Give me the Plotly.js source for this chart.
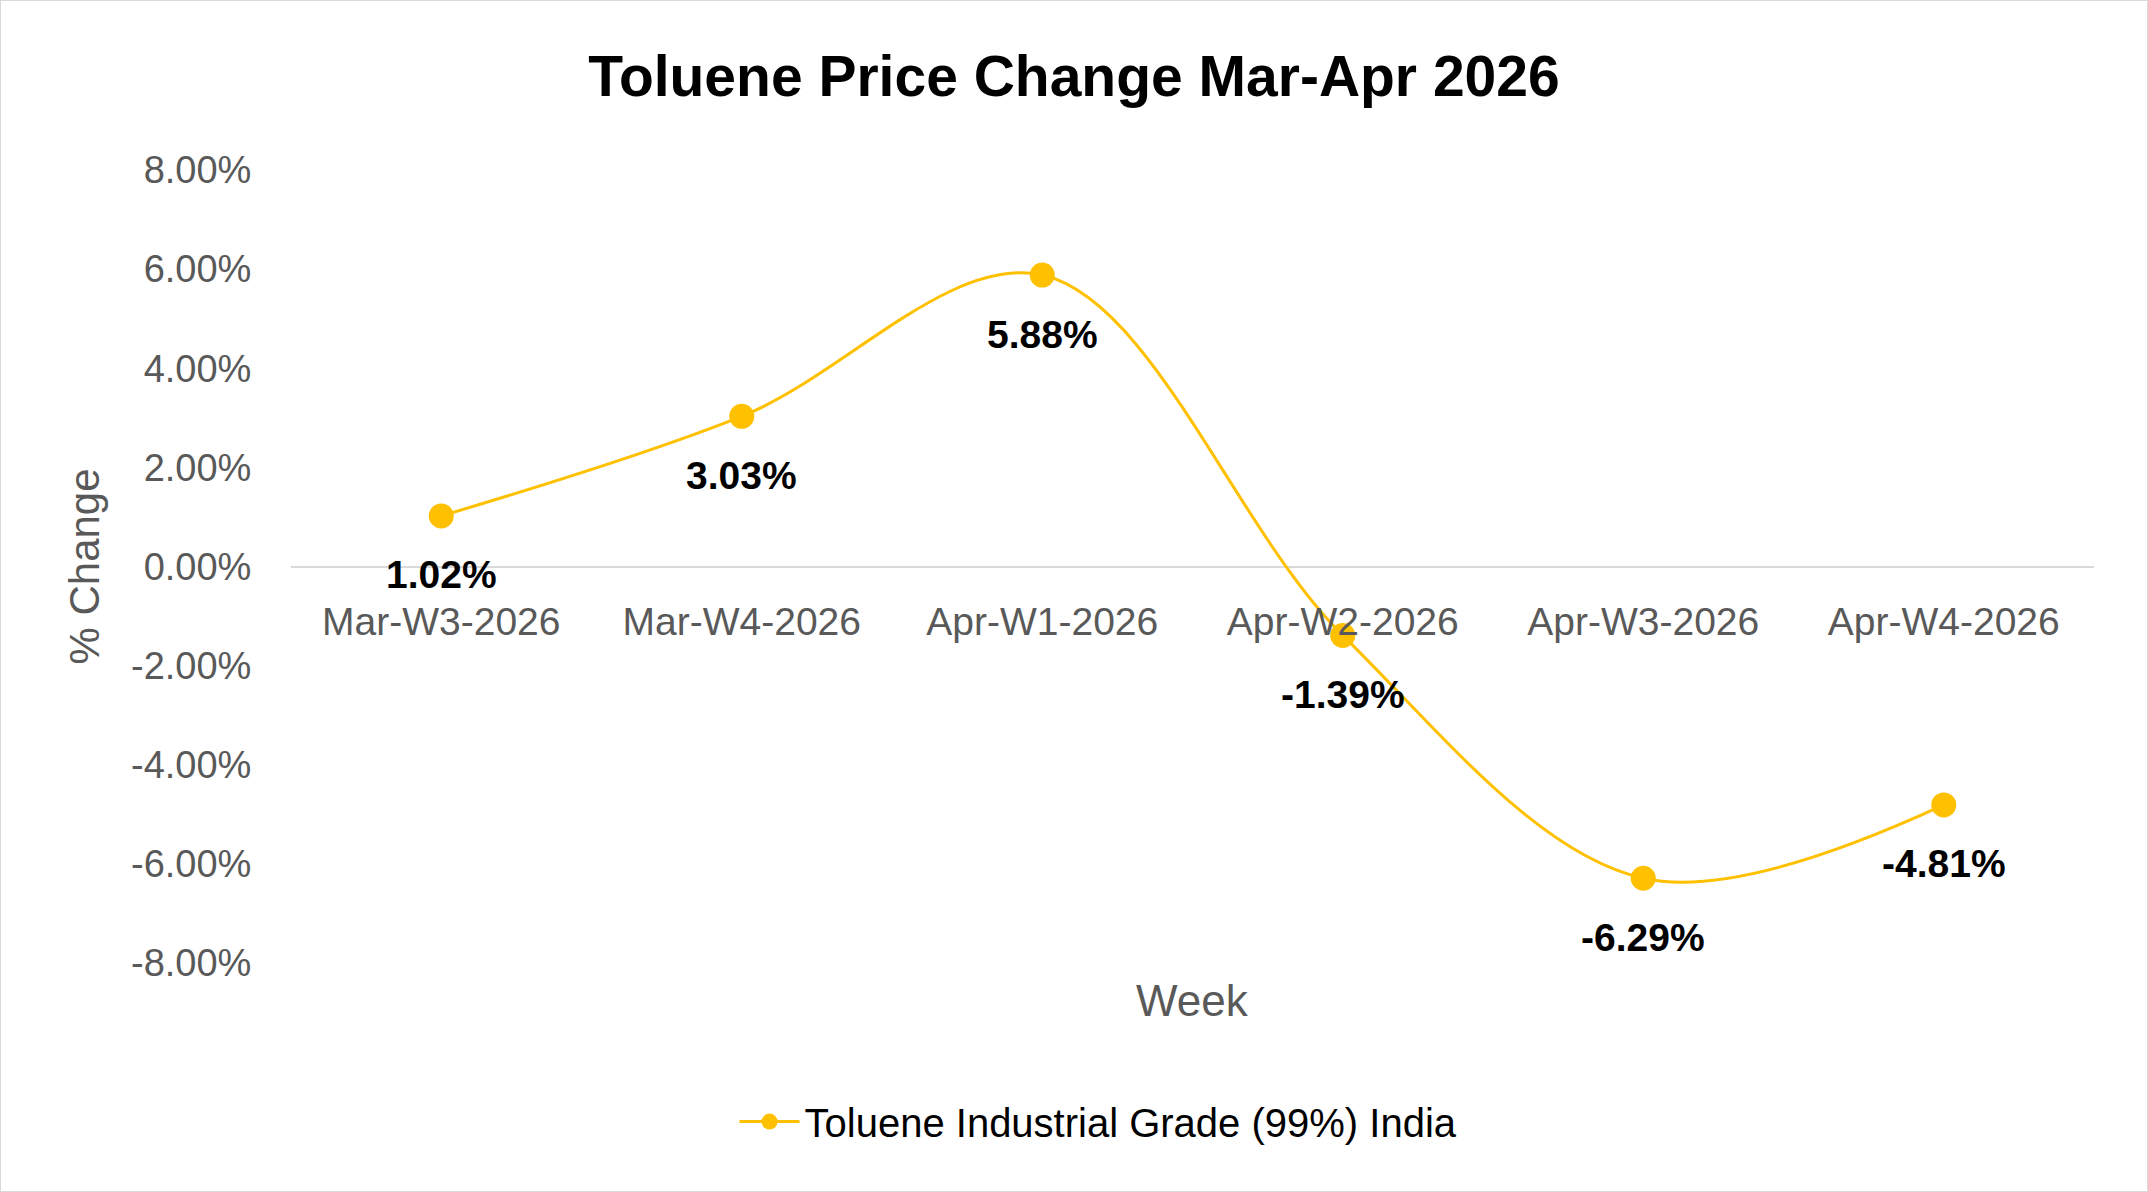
<!DOCTYPE html>
<html>
<head>
<meta charset="utf-8">
<script src="https://cdn.plot.ly/plotly-3.0.1.min.js"></script>
<style>
  html, body { margin: 0; padding: 0; background: #ffffff; }
  #chart { width: 2148px; height: 1192px; box-sizing: border-box; border: 1px solid #d9d9d9; }
</style>
</head>
<body>
<div id="chart"></div>
<script>
// ---- Data ----
const weeks = ["Mar-W3-2026", "Mar-W4-2026", "Apr-W1-2026", "Apr-W2-2026", "Apr-W3-2026", "Apr-W4-2026"];
const pctChange = [1.02, 3.03, 5.88, -1.39, -6.29, -4.81];
const yTickValues = [-8, -6, -4, -2, 0, 2, 4, 6, 8];
const seriesName = "Toluene Industrial Grade (99%) India";
const chartTitle = "Toluene Price Change Mar-Apr 2026";
const xTitle = "Week";
const yTitle = "% Change";

// ---- Styles ----
const FONT = "'Liberation Sans', Arial, sans-serif";
const GOLD = "#FFC000";
const GREY = "#595959";

const yFraction = pctChange.map(v => v / 100);
const yTicks = yTickValues.map(v => v / 100);
const yTickText = yTickValues.map(v => v.toFixed(2) + "%");

const trace = {
  type: "scatter",
  mode: "lines+markers",
  x: weeks,
  y: yFraction,
  name: seriesName,
  line: { color: GOLD, width: 3, shape: "spline", smoothing: 1 },
  marker: { color: GOLD, size: 25 },
  hoverinfo: "skip"
};

const labelAnnotations = weeks.map((w, i) => ({
  x: w,
  y: yFraction[i],
  xref: "x",
  yref: "y",
  text: "<b>" + pctChange[i].toFixed(2) + "%</b>",
  showarrow: false,
  yshift: -59,
  font: { family: FONT, size: 39, color: "#000000" }
}));

labelAnnotations.push({
  x: 0.5, y: -0.047, xref: "paper", yref: "paper",
  xanchor: "center", yanchor: "middle",
  text: xTitle, showarrow: false,
  font: { family: FONT, size: 44, color: GREY }
});

const layout = {
  width: 2146,
  height: 1190,
  paper_bgcolor: "#ffffff",
  plot_bgcolor: "#ffffff",
  margin: { l: 290, r: 53, t: 169, b: 228 },
  title: {
    text: "<b>" + chartTitle + "</b>",
    x: 0.5, xanchor: "center",
    y: 1 - 75 / 1192, yanchor: "middle", yref: "container",
    font: { family: FONT, size: 57, color: "#000000" }
  },
  xaxis: {
    type: "category",
    range: [-0.5, 5.5],
    anchor: "free",
    position: 0.5,
    showgrid: false,
    showline: false,
    zeroline: false,
    ticks: "outside",
    ticklen: 21,
    tickcolor: "rgba(0,0,0,0)",
    tickfont: { family: FONT, size: 39, color: GREY },
    fixedrange: true
  },
  yaxis: {
    range: [-0.08, 0.08],
    tickvals: yTicks,
    ticktext: yTickText,
    showgrid: false,
    zeroline: true,
    zerolinecolor: "#d9d9d9",
    zerolinewidth: 2,
    showline: false,
    ticks: "outside",
    ticklen: 31,
    tickcolor: "rgba(0,0,0,0)",
    tickfont: { family: FONT, size: 38, color: GREY },
    title: { text: yTitle, standoff: 18, font: { family: FONT, size: 42, color: GREY } },
    automargin: false,
    fixedrange: true
  },
  showlegend: true,
  legend: {
    orientation: "h",
    x: 0.246, xanchor: "left",
    y: -0.2, yanchor: "middle",
    font: { family: FONT, size: 40, color: "#000000" },
    itemwidth: 60
  },
  annotations: labelAnnotations
};

Plotly.newPlot("chart", [trace], layout, { displayModeBar: false, staticPlot: true });
</script>
</body>
</html>
